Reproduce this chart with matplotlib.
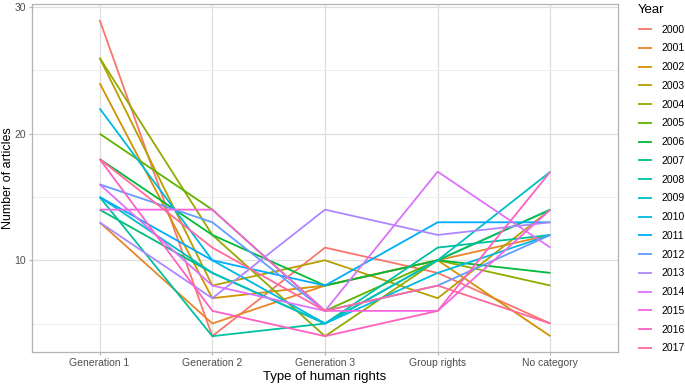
import numpy as np
import matplotlib
matplotlib.use("Agg")
import matplotlib.pyplot as plt

# article counts per year
categories = ["Generation 1", "Generation 2", "Generation 3", "Group rights", "No category"]
years = [str(y) for y in range(2000, 2018)]
counts = {
    "2000": [29, 4, 11, 9, 5],
    "2001": [13, 5, 8, 10, 12],
    "2002": [24, 7, 8, 10, 4],
    "2003": [26, 8, 10, 7, 14],
    "2004": [26, 12, 4, 10, 8],
    "2005": [20, 14, 6, 10, 14],
    "2006": [18, 12, 8, 10, 9],
    "2007": [14, 9, 5, 10, 14],
    "2008": [15, 4, 5, 11, 12],
    "2009": [15, 9, 5, 10, 17],
    "2010": [22, 10, 5, 9, 12],
    "2011": [15, 10, 8, 13, 13],
    "2012": [16, 13, 6, 8, 12],
    "2013": [13, 7, 14, 12, 13],
    "2014": [16, 8, 6, 17, 11],
    "2015": [14, 14, 6, 6, 14],
    "2016": [18, 6, 4, 6, 17],
    "2017": [18, 11, 6, 8, 5],
}


def hcl_to_rgb(h, c=100.0, l=65.0):
    # polarLUV -> sRGB, same thing ggplot's hue_pal does
    xn, yn, zn = 95.047, 100.0, 108.883
    Y = yn * ((l + 16) / 116) ** 3
    u = c * np.cos(np.radians(h))
    v = c * np.sin(np.radians(h))
    den = xn + 15 * yn + 3 * zn
    un, vn = 4 * xn / den, 9 * yn / den
    up = u / (13 * l) + un
    vp = v / (13 * l) + vn
    X = 9 * Y * up / (4 * vp)
    Z = -X / 3 - 5 * Y + 3 * Y / vp
    xyz = np.array([X, Y, Z]) / 100
    m = np.array([[3.240479, -1.537150, -0.498535],
                  [-0.969256, 1.875992, 0.041556],
                  [0.055648, -0.204043, 1.057311]])
    rgb = m @ xyz
    rgb = np.where(rgb <= 0.0031308, 12.92 * rgb, 1.055 * np.abs(rgb) ** (1 / 2.4) - 0.055)
    return tuple(np.clip(rgb, 0, 1))


n = len(years)
hues = np.linspace(15, 375, n + 1)[:n]
colors = [hcl_to_rgb(h) for h in hues]

plt.rcParams["font.family"] = ["Liberation Sans", "DejaVu Sans"]

fig = plt.figure(figsize=(6.85, 3.84), dpi=100)
ax = fig.add_axes([32 / 685, 32 / 384, 586 / 685, 348 / 384])

x = np.arange(1, len(categories) + 1)
for yr, col in zip(years, colors):
    ax.plot(x, counts[yr], color=col, lw=1.3, label=yr, solid_capstyle="butt")

ax.set_xlim(0.4, 5.6)
ax.set_ylim(2.75, 30.25)
ax.set_xticks(x)
ax.set_xticklabels(categories)
ax.set_yticks([10, 20, 30])
ax.set_yticks([5, 15, 25], minor=True)

ax.grid(True, which="major", color="#dedede", lw=0.9)
ax.grid(True, which="minor", axis="y", color="#ececec", lw=0.6)
ax.set_axisbelow(True)
for s in ax.spines.values():
    s.set_color("#b3b3b3")
    s.set_linewidth(0.9)
ax.tick_params(which="major", length=2.5, color="#b3b3b3", labelsize=7.5, labelcolor="#4d4d4d", pad=2)
ax.tick_params(which="minor", length=0)

ax.set_xlabel("Type of human rights", fontsize=9.5, labelpad=2)
ax.set_ylabel("Number of articles", fontsize=9)
ax.yaxis.set_label_coords(-0.031, 0.5)

leg = ax.legend(title="Year", loc="upper left", bbox_to_anchor=(1.027, 1.012), frameon=False,
                fontsize=7.5, title_fontsize=9.5, handlelength=1.35, handletextpad=0.9,
                labelspacing=0.84, borderaxespad=0)
leg._legend_box.align = "left"

fig.savefig("out.png", dpi=100)
